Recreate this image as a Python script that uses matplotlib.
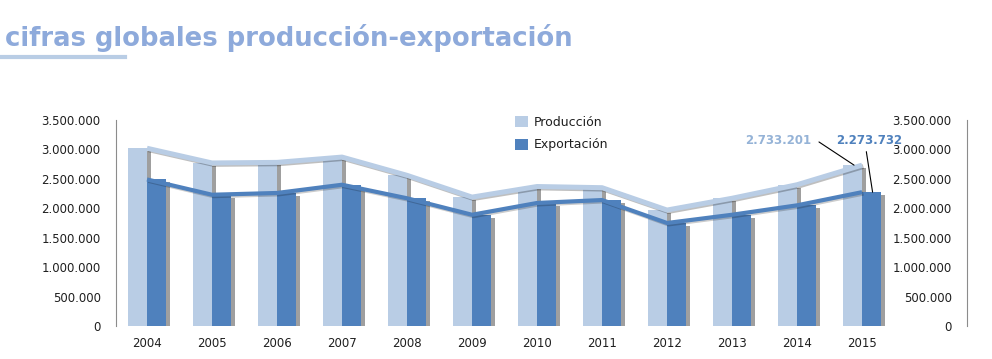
import matplotlib
matplotlib.use("Agg")
import numpy as np
from matplotlib import pyplot as plt
from matplotlib import patheffects as pe
from matplotlib.lines import Line2D
from matplotlib.patches import Patch
from matplotlib.ticker import FuncFormatter, MultipleLocator

years = ["2004", "2005", "2006", "2007", "2008", "2009",
         "2010", "2011", "2012", "2013", "2014", "2015"]
produccion = [3020000, 2770000, 2780000, 2870000, 2560000, 2190000,
              2370000, 2350000, 1970000, 2170000, 2400000, 2733201]
exportacion = [2490000, 2230000, 2260000, 2400000, 2170000, 1890000,
               2090000, 2140000, 1750000, 1890000, 2050000, 2273732]

light = "#B9CDE5"
dark = "#4F81BD"
title_col = "#8EAADB"
axis_col = "#8C8C8C"
text_col = "#1F1F1F"


def dots(v, pos):
    return f"{int(v):,}".replace(",", ".")


fig = plt.figure(figsize=(9.92, 3.59), dpi=100)
W, H = 992, 359

# title and its underline
fig.text(5 / W, 1 - 38 / H, "cifras globales producción-exportación",
         fontsize=18.6, fontweight="bold", color=title_col,
         ha="left", va="center", family="DejaVu Sans")
fig.add_artist(Line2D([0, 125 / W], [1 - 57 / H, 1 - 57 / H],
                      color=light, lw=3, transform=fig.transFigure))

ax = fig.add_axes([116 / W, 1 - 326 / H, (967 - 116) / W, (326 - 120) / H])
x = np.arange(len(years))
bw = 0.285

shadow = [pe.SimplePatchShadow(offset=(3, -2), shadow_rgbFace="#404040", alpha=0.5),
          pe.Normal()]
bars_p = ax.bar(x - bw / 2, produccion, width=bw, color=light, zorder=2)
for b in bars_p:
    b.set_path_effects(shadow)
bars_e = ax.bar(x + bw / 2, exportacion, width=bw, color=dark, zorder=3)
for b in bars_e:
    b.set_path_effects(shadow)

ax.plot(x, produccion, color=light, lw=3.6, zorder=4, solid_capstyle="butt",
        path_effects=[pe.SimpleLineShadow(offset=(1, -1), alpha=0.25), pe.Normal()])
ax.plot(x, exportacion, color=dark, lw=3.0, zorder=5, solid_capstyle="butt",
        path_effects=[pe.SimpleLineShadow(offset=(1, -1), alpha=0.2), pe.Normal()])

ax.set_xlim(-0.477, 12.615)
ax.set_ylim(0, 3500000)
ax.yaxis.set_major_locator(MultipleLocator(500000))
ax.yaxis.set_major_formatter(FuncFormatter(dots))
ax.set_xticks(x)
ax.set_xticklabels(years)
ax.tick_params(axis="both", length=0, labelsize=8.5, colors=text_col)
ax.tick_params(axis="y", pad=11)
ax.tick_params(axis="x", pad=8)
for s in ["top", "right", "bottom"]:
    ax.spines[s].set_visible(False)
ax.spines["left"].set_color(axis_col)
ax.spines["left"].set_linewidth(0.8)

ax2 = ax.twinx()
ax2.set_ylim(0, 3500000)
ax2.yaxis.set_major_locator(MultipleLocator(500000))
ax2.yaxis.set_major_formatter(FuncFormatter(dots))
ax2.tick_params(axis="y", length=0, labelsize=8.5, colors=text_col, pad=-11)
for lab in ax2.get_yticklabels():
    lab.set_horizontalalignment("right")
for s in ["top", "left", "bottom"]:
    ax2.spines[s].set_visible(False)
ax2.spines["right"].set_color(axis_col)
ax2.spines["right"].set_linewidth(0.8)

# data labels for 2015
ax.annotate(dots(produccion[-1], None), xy=(11 - bw / 2 + 0.02, produccion[-1]),
            xytext=(811, H - 140), textcoords="figure pixels",
            ha="right", va="center", fontsize=8.5, fontweight="bold", color="#95B3D7",
            arrowprops=dict(arrowstyle="-", color="black", lw=0.8, relpos=(1, 0.5),
                            shrinkA=4, shrinkB=0,
                            connectionstyle="arc,angleA=0,armA=5,angleB=0,armB=0,rad=0"),
            zorder=6)
ax.annotate(dots(exportacion[-1], None), xy=(11 + bw / 2 + 0.02, exportacion[-1]),
            xytext=(869, H - 141), textcoords="figure pixels",
            ha="center", va="center", fontsize=8.5, fontweight="bold", color=dark,
            arrowprops=dict(arrowstyle="-", color="black", lw=0.8, relpos=(0.45, 0),
                            shrinkA=1, shrinkB=0),
            zorder=6)

handles = [Patch(facecolor=light, edgecolor="none"), Patch(facecolor=dark, edgecolor="none")]
ax.legend(handles, ["Producción", "Exportación"], loc="upper left",
          bbox_to_anchor=(515 / W, 1 - 116 / H), bbox_transform=fig.transFigure,
          frameon=False, fontsize=9, handlelength=1.0, handleheight=1.0,
          handletextpad=0.5, labelspacing=0.75, borderpad=0, borderaxespad=0,
          labelcolor=text_col)

fig.savefig("out.png", dpi=100)
